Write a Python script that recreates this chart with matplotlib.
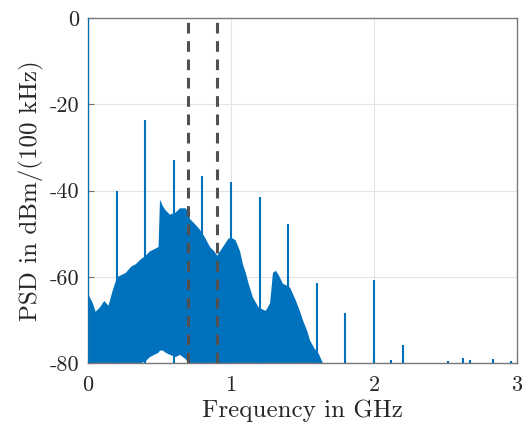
import matplotlib
matplotlib.use("Agg")
import matplotlib.pyplot as plt

# noise floor envelope (GHz, dBm)
env_freq = [0.0, 0.03, 0.05, 0.08, 0.11, 0.14, 0.17, 0.2, 0.23, 0.26, 0.3, 0.33, 0.36,
            0.4, 0.43, 0.46, 0.49, 0.5, 0.52, 0.54, 0.57, 0.61, 0.64, 0.68, 0.7, 0.71,
            0.74, 0.78, 0.81, 0.85, 0.88, 0.9, 0.92, 0.94, 0.96, 0.98, 1.01, 1.03,
            1.06, 1.08, 1.1, 1.12, 1.15, 1.19, 1.22, 1.24, 1.27, 1.29, 1.31, 1.33,
            1.36, 1.39, 1.41, 1.45, 1.48, 1.5, 1.53, 1.55, 1.58, 1.61, 1.64]
env_top = [-64.0, -66.0, -68.0, -67.0, -65.5, -66.6, -63.0, -60.0, -59.5, -59.0, -57.5, -57.0,
           -56.0, -55.0, -54.0, -53.5, -53.0, -42.0, -43.5, -44.5, -45.5, -45.0, -44.0,
           -44.0, -45.0, -46.5, -47.5, -49.0, -50.5, -53.0, -54.0, -55.0, -54.0, -53.0,
           -52.0, -51.0, -51.0, -51.5, -54.0, -57.0, -59.0, -61.5, -64.7, -67.0, -67.5,
           -67.8, -66.0, -59.0, -58.5, -59.5, -61.5, -62.0, -62.4, -65.4, -68.0, -70.0,
           -72.5, -74.7, -76.5, -77.7, -80.0]
env_bot = [-80.0, -80.0, -80.0, -80.0, -80.0, -80.0, -80.0, -80.0, -80.0, -80.0, -80.0, -80.0,
           -80.0, -79.5, -78.5, -78.0, -77.5, -77.0, -77.0, -77.5, -78.0, -78.5, -78.0,
           -79.0, -80.0, -80.0, -80.0, -80.0, -80.0, -80.0, -80.0, -80.0, -80.0, -80.0,
           -80.0, -80.0, -80.0, -80.0, -80.0, -80.0, -80.0, -80.0, -80.0, -80.0, -80.0,
           -80.0, -80.0, -80.0, -80.0, -80.0, -80.0, -80.0, -80.0, -80.0, -80.0, -80.0,
           -80.0, -80.0, -80.0, -80.0, -80.0]

# discrete spurs
spur_freq = [0.0, 0.2, 0.4, 0.6, 0.8, 1.0, 1.2, 1.4, 1.6, 1.8, 2.0, 2.12, 2.2,
             2.52, 2.62, 2.67, 2.83, 2.96]
spur_level = [0.0, -40.0, -23.7, -33.0, -36.7, -38.0, -41.5, -47.8, -61.5, -68.4,
              -60.8, -79.3, -75.9, -79.5, -78.9, -79.3, -79.0, -79.5]

# band edges
band_edges = [0.7, 0.9]

plt.rcParams['font.family'] = ['cmr10', 'DejaVu Serif']
plt.rcParams['axes.unicode_minus'] = False
plt.rcParams['mathtext.fontset'] = 'cm'

blue = '#0072BD'
txt = '#262626'

fig = plt.figure(figsize=(5.31, 4.30), dpi=100)
ax = fig.add_axes([0.1657, 0.1558, 0.8079, 0.8023])

ax.fill_between(env_freq, env_bot, env_top, color=blue, linewidth=0, zorder=2)
ax.vlines(spur_freq, -80, spur_level, color=blue, linewidth=1.5, zorder=3)
for f in band_edges:
    ax.axvline(f, color='#505050', linestyle=(0, (3.5, 2.5)), linewidth=2.2, zorder=4)

ax.set_xlim(0, 3)
ax.set_ylim(-80, 0)
ax.set_xticks([0, 1, 2, 3])
ax.set_yticks([-80, -60, -40, -20, 0])
ax.grid(True, color='#e3e3e3', linewidth=0.8, zorder=0)
ax.set_axisbelow(True)
ax.tick_params(direction='in', length=4, color='#707070', labelsize=16, labelcolor=txt)
ax.tick_params(axis='x', pad=9)
ax.tick_params(axis='y', pad=6)
for s in ax.spines.values():
    s.set_color('#7a7a7a')
    s.set_linewidth(1.0)

ax.set_xlabel('Frequency in GHz', fontsize=18, color=txt, labelpad=3)
ax.set_ylabel('PSD in dBm/(100 kHz)', fontsize=18, color=txt)

fig.savefig('out.png', dpi=100)
